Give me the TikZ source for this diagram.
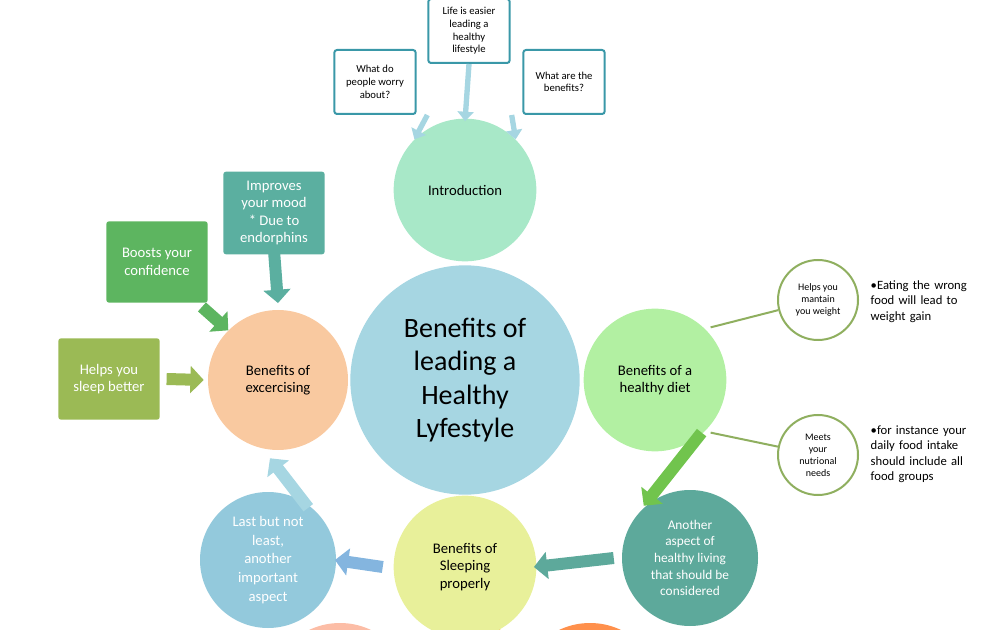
\documentclass[tikz,border=0pt]{standalone}
\usepackage{fontspec}
\setmainfont{Carlito}
\usetikzlibrary{arrows.meta}
\definecolor{cmain}{HTML}{A6D6E2}
\definecolor{cintro}{HTML}{A8E8C8}
\definecolor{cexer}{HTML}{F9C9A0}
\definecolor{cdiet}{HTML}{B2F0A2}
\definecolor{csleep}{HTML}{E8F09A}
\definecolor{canother}{HTML}{5DA99B}
\definecolor{clast}{HTML}{93C9DC}
\definecolor{cteal}{HTML}{3A98A8}
\definecolor{cmood}{HTML}{5BAFA0}
\definecolor{cconf}{HTML}{5DB560}
\definecolor{csleepbox}{HTML}{9BBA55}
\definecolor{colive}{HTML}{8FAF5F}
\begin{document}
\begin{tikzpicture}[x=0.75pt,y=-0.75pt,
    bubble/.style={circle, inner sep=0pt, align=center},
    topbox/.style={draw=cteal, line width=1.5pt, fill=white, rounded corners=2pt,
      minimum width=61pt, minimum height=48pt, align=center, font=\fontsize{8}{9.5}\selectfont},
    greenbox/.style={rounded corners=2pt, minimum width=76pt, minimum height=61pt,
      align=center, text=white, font=\fontsize{11}{13}\selectfont},
    smallbubble/.style={circle, draw=colive, line width=1.5pt, fill=white, minimum size=60pt,
      inner sep=0pt, align=center, font=\fontsize{7.5}{9}\selectfont},
    blockarrow/.style={line width=9pt, -{Triangle[length=10pt,width=20pt]}},
    thinarrow/.style={line width=4pt, -{Triangle[length=7pt,width=12pt]}, cmain},
    note/.style={anchor=north west, text width=90pt, align=left, font=\fontsize{9.5}{11.5}\selectfont}
]
    \useasboundingbox (0,0) rectangle (1002,630);
    % bottom cut-off circles
    \fill[cexer!80!red!70] (340,695) circle (72);
    \fill[csleep!60!orange] (470,695) circle (72);
    \fill[orange!75!red!70] (590,695) circle (72);

    % main circles
    \node[bubble, fill=cmain, minimum size=172pt, font=\fontsize{21}{25}\selectfont] (main) at (465,380)
        {Benefits of\\leading a\\Healthy\\Lyfestyle};
    \node[bubble, fill=cintro, minimum size=107pt, font=\fontsize{11}{13}\selectfont] (intro) at (465,190) {Introduction};
    \node[bubble, fill=cexer, minimum size=105pt, font=\fontsize{11}{13}\selectfont] (exer) at (278,380) {Benefits of\\excercising};
    \node[bubble, fill=cdiet, minimum size=107pt, font=\fontsize{11}{13}\selectfont] (diet) at (655,380) {Benefits of a\\healthy diet};
    \node[bubble, fill=csleep, minimum size=107pt, font=\fontsize{11}{13}\selectfont] (sleep) at (465,567) {Benefits of\\Sleeping\\properly};
    \node[bubble, fill=canother, minimum size=102pt, text=white, font=\fontsize{10}{12.5}\selectfont] (another) at (690,558)
        {Another\\aspect of\\healthy living\\that should be\\considered};
    \node[bubble, fill=clast, minimum size=102pt, text=white, font=\fontsize{11}{14}\selectfont] (last) at (268,560)
        {Last but not\\least,\\another\\important\\aspect};

    % top boxes
    \node[topbox] (easier) at (469,31) {Life is easier\\leading a\\healthy\\lifestyle};
    \node[topbox] (worry) at (375,82) {What do\\people worry\\about?};
    \node[topbox] (what) at (564,82) {What are the\\benefits?};
    \draw[thinarrow] (easier.south) -- ([yshift=-2]intro.north);
    \draw[thinarrow] ([xshift=8]worry.south east) -- (intro.north west);
    \draw[thinarrow] ([xshift=-8]what.south west) -- (intro.north east);

    % exercise boxes
    \node[greenbox, fill=cmood, minimum height=62pt] (mood) at (274,213) {Improves\\your mood\\* Due to\\endorphins};
    \node[greenbox, fill=cconf] (conf) at (157,262) {Boosts your\\confidence};
    \node[greenbox, fill=csleepbox] (sleepbox) at (109,379) {Helps you\\sleep better};
    \draw[blockarrow, cmood] ([yshift=3]mood.south) -- ([yshift=5]exer.north);
    \draw[blockarrow, cconf] ([shift={(-6,4)}]conf.south east) -- (exer.north west);
    \draw[blockarrow, csleepbox] ([xshift=5]sleepbox.east) -- ([xshift=-3]exer.west);

    % diet details
    \node[smallbubble] (weight) at (818,300) {Helps you\\mantain\\you weight};
    \node[smallbubble] (needs) at (818,455) {Meets\\your\\nutrional\\needs};
    \draw[colive, line width=1.5pt] ([shift={(5,-2)}]diet.north east) -- (weight);
    \draw[colive, line width=1.5pt] ([shift={(5,2)}]diet.south east) -- (needs);
    \node[note] (n1) at (866,276) {•Eating the wrong food will lead to weight gain};
    \node[note] (n2) at (866,421) {•for instance your daily food intake should include all food groups};

    % cycle arrows
    \draw[blockarrow, cconf!80!lime] ([shift={(-4,2)}]diet.south east) -- ([shift={(2,-4)}]another.north west);
    \draw[blockarrow, canother] ([xshift=-6]another.west) -- ([xshift=-2]sleep.east);
    \draw[blockarrow, clast!90!blue] ([xshift=-8]sleep.west) -- ([xshift=-1]last.east);
    \draw[blockarrow, cmain] ([shift={(-8,-4)}]last.north east) -- ([shift={(-8,8)}]exer.south);
\end{tikzpicture}
\end{document}
